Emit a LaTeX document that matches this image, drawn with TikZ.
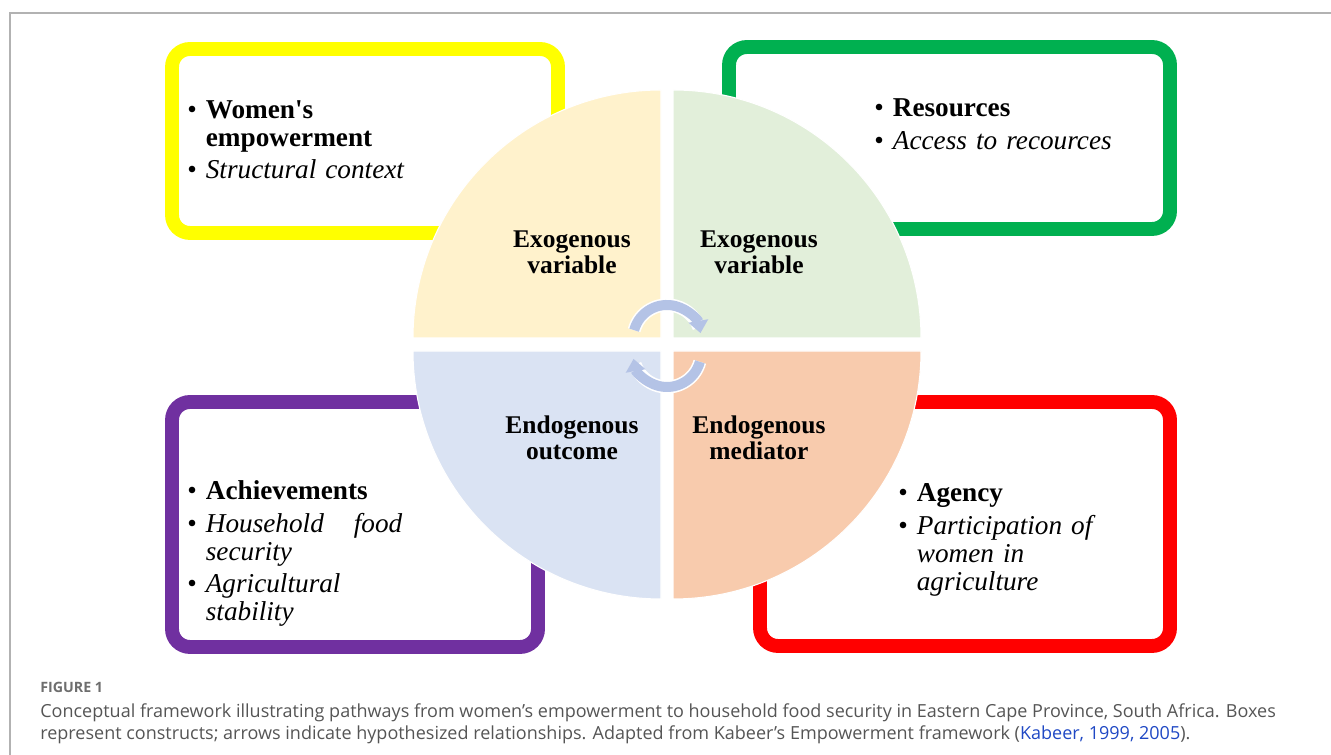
\documentclass[tikz,border=0pt]{standalone}
\usepackage{fontspec}
\setmainfont{Liberation Serif}
\newfontfamily\capfont{Open Sans}
\usetikzlibrary{arrows.meta}

\definecolor{qyellow}{HTML}{FFF2CC}
\definecolor{qgreen}{HTML}{E2EFDA}
\definecolor{qblue}{HTML}{DAE3F3}
\definecolor{qpeach}{HTML}{F8CBAD}
\definecolor{byellow}{HTML}{FFFF00}
\definecolor{bgreen}{HTML}{00B050}
\definecolor{bpurple}{HTML}{7030A0}
\definecolor{bred}{HTML}{FF0000}
\definecolor{turnblue}{HTML}{B4C3E6}
\definecolor{captext}{HTML}{555555}
\definecolor{citeblue}{HTML}{1F48C4}

\newcommand{\bitem}[1]{\noindent\hangindent=3.7mm\hangafter=1\makebox[3.7mm][l]{\textbullet}#1\par}

\tikzstyle{frame}=[line width=7.9pt, rounded corners=3.6mm]
\tikzstyle{quad}=[draw=white, line width=0.6pt]
\tikzstyle{quadtext}=[font=\fontsize{14.5}{14.7}\selectfont\bfseries, align=center, inner sep=0pt]
\tikzstyle{itemtext}=[font=\fontsize{15.5}{15.9}\selectfont, text width=70mm, anchor=north west, inner sep=0pt, execute at begin node={\setlength{\parskip}{2.8pt}}]
\tikzstyle{turn}=[line width=5.7pt, draw=turnblue, -{Triangle[width=11pt,length=7pt]}]

\begin{document}
\begin{tikzpicture}[x=0.2mm,y=0.2mm]
    \useasboundingbox (0,0) rectangle (1331,755);
    \draw[gray!60, line width=0.8pt] (10,0) -- (10,742) -- (1331,742);

    \draw[frame, draw=byellow] (172,522) rectangle (558,706);
    \draw[frame, draw=bgreen] (729,526) rectangle (1170,708);
    \draw[frame, draw=bpurple] (172,108) rectangle (538,353);
    \draw[frame, draw=bred] (760,109) rectangle (1170,353);

    \path[quad, fill=qyellow] (661,417) -- (661,665) arc[start angle=90, end angle=180, radius=248] -- cycle;
    \path[quad, fill=qgreen] (673,417) -- (921,417) arc[start angle=0, end angle=90, radius=248] -- cycle;
    \path[quad, fill=qblue] (661,404) -- (413,404) arc[start angle=180, end angle=270, radius=248] -- cycle;
    \path[quad, fill=qpeach] (673,404) -- (673,156) arc[start angle=270, end angle=360, radius=248] -- cycle;

    \draw[white, line width=7.5pt] (667,416) ++(165:34) arc[start angle=165, end angle=20, radius=34];
    \draw[turn] (667,416) ++(165:34) arc[start angle=165, end angle=10, radius=34];
    \draw[white, line width=7.5pt] (667,402) ++(-15:34) arc[start angle=-15, end angle=-160, radius=34];
    \draw[turn] (667,402) ++(-15:34) arc[start angle=-15, end angle=-170, radius=34];

    \node[quadtext] (q1) at (572,503) {Exogenous\\variable};
    \node[quadtext] (q2) at (759,503) {Exogenous\\variable};
    \node[quadtext] (q3) at (572,317) {Endogenous\\outcome};
    \node[quadtext] (q4) at (759,317) {Endogenous\\mediator};

    \node[itemtext] (b1) at (187,655) {\bitem{\textbf{Women\textquotesingle s}\newline\textbf{empowerment}}
        \bitem{\textit{Structural context}}};
    \node[itemtext] (b2) at (874,657) {\bitem{\textbf{Resources}}
        \bitem{\textit{Access to recources}}};
    \node[itemtext] (b3) at (187,275) {\bitem{\textbf{Achievements}}
        \bitem{\textit{Household\hspace{1.1em}food}\newline\textit{security}}
        \bitem{\textit{Agricultural}\newline\textit{stability}}};
    \node[itemtext] (b4) at (898,272) {\bitem{\textbf{Agency}}
        \bitem{\textit{Participation of}\newline\textit{women in}\newline\textit{agriculture}}};

    \node[anchor=north west, inner sep=0pt, text=captext!85, font=\capfont\bfseries\fontsize{8.1}{9}\selectfont] (fig) at (40,73) {FIGURE 1};
    \node[anchor=north west, inner sep=0pt, align=left, text=captext, font=\capfont\fontsize{10.25}{13}\selectfont] (cap) at (40,52)
        {Conceptual framework illustrating pathways from women’s empowerment to household food security in Eastern Cape Province, South Africa. Boxes\\
        represent constructs; arrows indicate hypothesized relationships. Adapted from Kabeer’s Empowerment framework (\textcolor{citeblue}{Kabeer, 1999, 2005}).};
\end{tikzpicture}
\end{document}
